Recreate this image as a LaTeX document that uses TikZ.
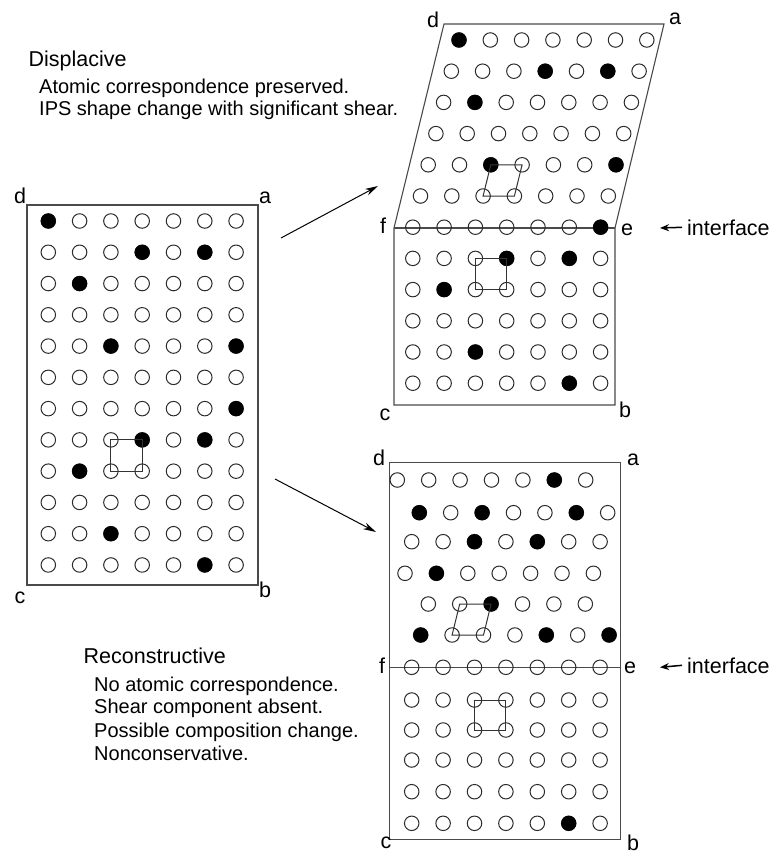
\documentclass[tikz,border=0pt]{standalone}
\usepackage{fontspec}
\setmainfont{Liberation Sans}
\usetikzlibrary{arrows.meta}
\definecolor{gridGray}{HTML}{4A4A4A}
\definecolor{atomGray}{HTML}{2B2B2B}

\begin{document}
\begin{tikzpicture}[x=1pt,y=-1pt,
  atom/.style={circle,draw=atomGray,line width=1pt,minimum size=14.5pt,inner sep=0pt},
  box/.style={draw=gridGray,line width=1.1pt},
  cell/.style={draw=black!80,line width=1pt},
  lbl/.style={font=\fontsize{21.5}{24}\selectfont,anchor=base,inner sep=0pt},
  hd/.style={font=\fontsize{21.5}{24}\selectfont,anchor=base west,inner sep=0pt},
  txt/.style={font=\fontsize{20}{22}\selectfont,anchor=base west,inner sep=0pt},
  ar/.style={-{Stealth[length=13pt,width=7pt]},line width=1pt},
  iar/.style={-{Stealth[length=9pt,width=7pt]},line width=1.5pt}]
  \useasboundingbox (0,0) rectangle (777,853);

  % parent lattice
  \draw[box] (27,205) rectangle (258,585);
  \foreach \r in {0,...,11}
    \foreach \c in {0,...,6}
      \node[atom] (L-\r-\c) at (48.3+31.3*\c,221+31.27*\r) {};
  \foreach \r/\c in {0/0,1/3,1/5,2/1,4/2,4/6,6/6,7/3,7/5,8/1,10/2,11/5}
    \fill[black] (L-\r-\c) circle[radius=7.6];
  \draw[cell] (L-7-2.center) -- (L-7-3.center) -- (L-8-3.center) -- (L-8-2.center) -- cycle;
  \node[lbl] (Ld) at (20,203) {d};
  \node[lbl] (La) at (265,203) {a};
  \node[lbl] (Lc) at (20,603) {c};
  \node[lbl] (Lb) at (265,597) {b};

  % displacive product
  \draw[box] (394,405) -- (394,228) -- (444,24) -- (664,24) -- (615,228) -- (615,405) -- cycle;
  \draw[box] (394,228) -- (615,228);
  \foreach \r in {0,...,11}
    \foreach \c in {0,...,6} {
      \pgfmathsetmacro\sx{max(0,6-\r)*7.7}
      \node[atom] (T-\r-\c) at (412.8+\sx+31.3*\c,40+31.2*\r) {};
    }
  \foreach \r/\c in {0/0,1/3,1/5,2/1,4/2,4/6,6/6,7/3,7/5,8/1,10/2,11/5}
    \fill[black] (T-\r-\c) circle[radius=7.6];
  \draw[cell] (T-4-2.center) -- (T-4-3.center) -- (T-5-3.center) -- (T-5-2.center) -- cycle;
  \draw[cell] (T-7-2.center) -- (T-7-3.center) -- (T-8-3.center) -- (T-8-2.center) -- cycle;
  \node[lbl] (Td) at (433,28) {d};
  \node[lbl] (Ta) at (675,25) {a};
  \node[lbl] (Tf) at (383,233) {f};
  \node[lbl] (Te) at (627,235) {e};
  \node[lbl] (Tc) at (385,420) {c};
  \node[lbl] (Tb) at (625,417) {b};

  % reconstructive product
  \draw[box] (389.5,462.7) rectangle (620.5,839.3);
  \draw[box] (389.5,667.3) -- (620.5,667.3);
  \foreach \r/\y/\x/\n in {0/480/397.3/6,1/512.7/419.3/6,2/541.7/411.7/6,3/573.3/405/6,
      4/604/428.3/5,5/635/420.7/6,6/667.3/411.7/6,7/700/411.7/6,8/730/411.7/6,
      9/760/411.7/6,10/791.7/411.7/6,11/823.3/411.7/6}
    \foreach \c in {0,...,\n}
      \node[atom] (R-\r-\c) at (\x+31.4*\c,\y) {};
  \foreach \r/\c in {0/5,1/0,1/2,1/5,2/2,2/4,3/1,4/2,5/0,5/4,5/6,11/5}
    \fill[black] (R-\r-\c) circle[radius=7.6];
  \draw[cell] (R-4-1.center) -- (R-4-2.center) -- (R-5-2.center) -- (R-5-1.center) -- cycle;
  \draw[cell] (R-7-2.center) -- (R-7-3.center) -- (R-8-3.center) -- (R-8-2.center) -- cycle;
  \node[lbl] (Rd) at (379,465) {d};
  \node[lbl] (Ra) at (633,465) {a};
  \node[lbl] (Rf) at (382,673) {f};
  \node[lbl] (Re) at (630,673) {e};
  \node[lbl] (Rc) at (386,848) {c};
  \node[lbl] (Rb) at (633,850) {b};

  % interface markers
  \node[hd] (ifT) at (687,235) {interface};
  \node[hd] (ifR) at (687,673) {interface};
  \coordinate (ifTa) at (660,228);
  \coordinate (ifRa) at (660,667.3);
  \draw[iar] ([xshift=-5pt]ifT.west) -- (ifTa);
  \draw[iar] ([xshift=-5pt]ifR.west) -- (ifRa);

  % transformation arrows
  \coordinate (up0) at (281,238);
  \coordinate (up1) at (378,186);
  \coordinate (dn0) at (275,479);
  \coordinate (dn1) at (376,532);
  \draw[ar] (up0) -- (up1);
  \draw[ar] (dn0) -- (dn1);

  % captions
  \node[hd] (dsp) at (28.5,66.7) {Displacive};
  \node[txt] (dsp1) at (39,94) {Atomic correspondence preserved.};
  \node[txt] (dsp2) at (39,116) {IPS shape change with significant shear.};
  \node[hd] (rec) at (83.5,663) {Reconstructive};
  \node[txt] (rec1) at (94,691) {No atomic correspondence.};
  \node[txt] (rec2) at (94,713.5) {Shear component absent.};
  \node[txt] (rec3) at (94,737) {Possible composition change.};
  \node[txt] (rec4) at (94,760) {Nonconservative.};
\end{tikzpicture}
\end{document}
